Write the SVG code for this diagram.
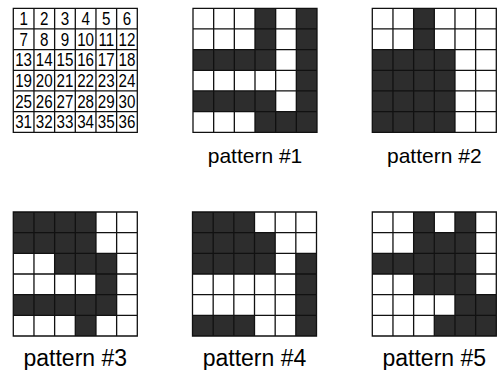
<svg xmlns="http://www.w3.org/2000/svg" xmlns:xlink="http://www.w3.org/1999/xlink" width="497" height="370" viewBox="0 0 497 370">
<style>
.bg{fill:#fff}
.d{fill:#2d2d2d}
.ln{fill:none;stroke:#111;stroke-width:1.3}
.lbl{font-family:"Liberation Sans",Arial,sans-serif;fill:#000;text-anchor:middle}
.num{font-family:"Liberation Sans",Arial,sans-serif;font-size:18.5px;fill:#000;text-anchor:middle}
</style>
<defs>
<path id="grid" class="ln" d="M0,0H124V124H0Z M20.667,0V124 M41.333,0V124 M62,0V124 M82.667,0V124 M103.333,0V124 M0,20.667H124 M0,41.333H124 M0,62H124 M0,82.667H124 M0,103.333H124"/>
</defs>
<rect width="497" height="370" fill="#fff"/>
<g id="numbers" transform="translate(13.3,8.3)">
<rect class="bg" width="124" height="124"/>
<g transform="scale(0.82,1)">
<text class="num" x="12.6" y="16.9">1</text><text class="num" x="37.8" y="16.9">2</text><text class="num" x="63" y="16.9">3</text><text class="num" x="88.2" y="16.9">4</text><text class="num" x="113.4" y="16.9">5</text><text class="num" x="138.6" y="16.9">6</text>
<text class="num" x="12.6" y="37.6">7</text><text class="num" x="37.8" y="37.6">8</text><text class="num" x="63" y="37.6">9</text><text class="num" x="88.2" y="37.6">10</text><text class="num" x="113.4" y="37.6">11</text><text class="num" x="138.6" y="37.6">12</text>
<text class="num" x="12.6" y="58.2">13</text><text class="num" x="37.8" y="58.2">14</text><text class="num" x="63" y="58.2">15</text><text class="num" x="88.2" y="58.2">16</text><text class="num" x="113.4" y="58.2">17</text><text class="num" x="138.6" y="58.2">18</text>
<text class="num" x="12.6" y="78.9">19</text><text class="num" x="37.8" y="78.9">20</text><text class="num" x="63" y="78.9">21</text><text class="num" x="88.2" y="78.9">22</text><text class="num" x="113.4" y="78.9">23</text><text class="num" x="138.6" y="78.9">24</text>
<text class="num" x="12.6" y="99.6">25</text><text class="num" x="37.8" y="99.6">26</text><text class="num" x="63" y="99.6">27</text><text class="num" x="88.2" y="99.6">28</text><text class="num" x="113.4" y="99.6">29</text><text class="num" x="138.6" y="99.6">30</text>
<text class="num" x="12.6" y="120.2">31</text><text class="num" x="37.8" y="120.2">32</text><text class="num" x="63" y="120.2">33</text><text class="num" x="88.2" y="120.2">34</text><text class="num" x="113.4" y="120.2">35</text><text class="num" x="138.6" y="120.2">36</text>
</g>
<use xlink:href="#grid"/>
</g>
<g id="pattern1" transform="translate(193,8.3)">
<rect class="bg" width="124" height="124"/>
<rect class="d" x="103.333" y="0" width="20.667" height="124"/>
<rect class="d" x="62" y="0" width="20.667" height="62"/>
<rect class="d" x="0" y="41.333" width="82.667" height="20.667"/>
<rect class="d" x="0" y="82.667" width="82.667" height="20.667"/>
<rect class="d" x="62" y="103.333" width="62" height="20.667"/>
<use xlink:href="#grid"/>
<text class="lbl" x="62" y="155" font-size="21">pattern #1</text>
</g>
<g id="pattern2" transform="translate(372.3,8.3)">
<rect class="bg" width="124" height="124"/>
<rect class="d" x="41.333" y="0" width="20.667" height="41.333"/>
<rect class="d" x="0" y="41.333" width="82.667" height="82.667"/>
<use xlink:href="#grid"/>
<text class="lbl" x="62" y="155" font-size="21">pattern #2</text>
</g>
<g id="pattern3" transform="translate(13.3,212)">
<rect class="bg" width="124" height="124"/>
<rect class="d" x="0" y="0" width="82.667" height="41.333"/>
<rect class="d" x="41.333" y="41.333" width="62" height="20.667"/>
<rect class="d" x="82.667" y="62" width="20.667" height="20.667"/>
<rect class="d" x="0" y="82.667" width="103.333" height="20.667"/>
<rect class="d" x="62" y="103.333" width="20.667" height="20.667"/>
<use xlink:href="#grid"/>
<text class="lbl" x="62" y="154" font-size="23">pattern #3</text>
</g>
<g id="pattern4" transform="translate(192.5,212)">
<rect class="bg" width="124" height="124"/>
<rect class="d" x="0" y="0" width="62" height="20.667"/>
<rect class="d" x="0" y="20.667" width="82.667" height="41.333"/>
<rect class="d" x="103.333" y="41.333" width="20.667" height="82.667"/>
<rect class="d" x="0" y="103.333" width="62" height="20.667"/>
<use xlink:href="#grid"/>
<text class="lbl" x="62" y="154" font-size="23">pattern #4</text>
</g>
<g id="pattern5" transform="translate(372.3,212)">
<rect class="bg" width="124" height="124"/>
<rect class="d" x="41.333" y="0" width="20.667" height="82.667"/>
<rect class="d" x="82.667" y="0" width="20.667" height="124"/>
<rect class="d" x="62" y="20.667" width="20.667" height="62"/>
<rect class="d" x="0" y="41.333" width="41.333" height="20.667"/>
<rect class="d" x="103.333" y="82.667" width="20.667" height="41.333"/>
<rect class="d" x="62" y="103.333" width="20.667" height="20.667"/>
<use xlink:href="#grid"/>
<text class="lbl" x="62" y="154" font-size="23">pattern #5</text>
</g>
<g id="connectors"/>
</svg>
